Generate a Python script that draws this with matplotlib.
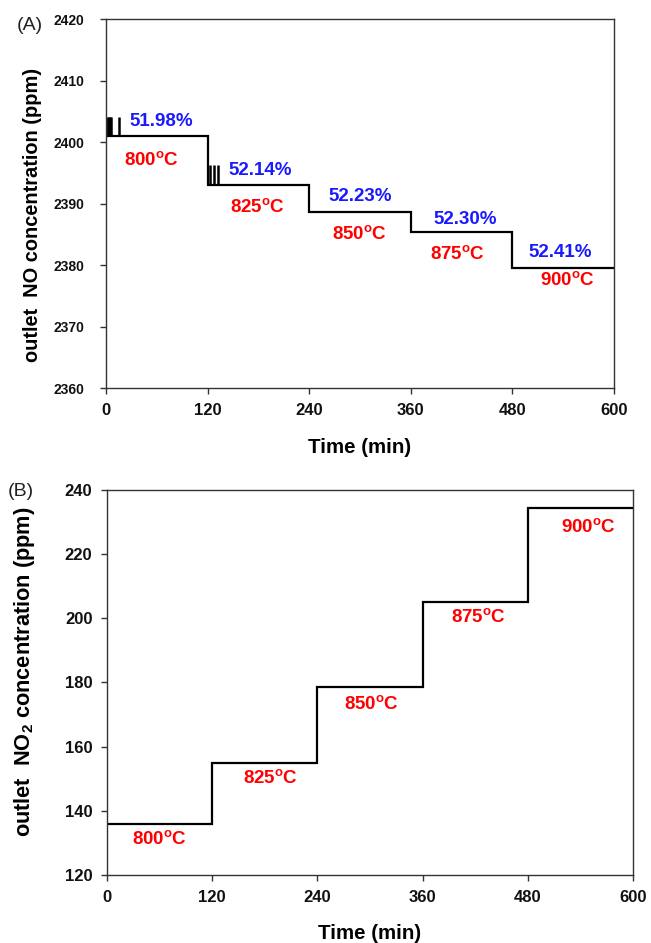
import matplotlib
matplotlib.use("Agg")
import matplotlib.pyplot as plt

plt.rcParams['font.family'] = ['Liberation Sans', 'DejaVu Sans']
plt.rcParams['mathtext.fontset'] = 'custom'
plt.rcParams['mathtext.rm'] = 'Liberation Sans'
plt.rcParams['mathtext.bf'] = 'Liberation Sans:bold'
plt.rcParams['mathtext.it'] = 'Liberation Sans:italic'

# ---- data ----
step_edges = [0, 120, 240, 360, 480, 600]
temps = ['800', '825', '850', '875', '900']
no_levels = [2401.0, 2393.0, 2388.7, 2385.3, 2379.6]
no2_levels = [135.8, 155.0, 178.5, 205.0, 234.3]
conversions = ['51.98%', '52.14%', '52.23%', '52.30%', '52.41%']
spike_times = [0.5, 1.8, 3.1, 4.4, 5.6, 15.5, 122.7, 127.0, 132.6]
spike_base = [2401, 2401, 2401, 2401, 2401, 2401, 2393, 2393, 2393]
spike_tops = [2404, 2404, 2404, 2404, 2404, 2404, 2396.2, 2396.2, 2396.2]

# label positions (data coords)
conv_pos = [(65, 2403.3), (182, 2395.3), (300, 2391.2), (424, 2387.4), (537, 2382.0)]
tempA_pos = [(54, 2397.1), (179, 2389.4), (300, 2385.0), (415, 2381.8), (545, 2377.6)]
tempB_pos = [(60, 131.2), (187, 150.3), (302, 173.3), (424, 200.3), (549, 228.5)]

xticks = [0, 120, 240, 360, 480, 600]

fig = plt.figure(figsize=(6.51, 9.43), dpi=100)
axA = fig.add_axes([0.1628, 0.5885, 0.7803, 0.3913])
axB = fig.add_axes([0.1644, 0.0721, 0.808, 0.4083])

spine_col = '#333333'

def style(ax, ysize, ypad):
    for s in ax.spines.values():
        s.set_color(spine_col)
        s.set_linewidth(1.0)
    ax.tick_params(direction='out', length=4.5, width=1, color=spine_col,
                   labelcolor='#111111')
    ax.tick_params(axis='x', labelsize=12, pad=6)
    ax.tick_params(axis='y', labelsize=ysize, pad=ypad)
    for lab in ax.get_xticklabels() + ax.get_yticklabels():
        lab.set_fontweight('bold')

def step_line(ax, levels):
    xs, ys = [], []
    for i, lv in enumerate(levels):
        xs += [step_edges[i], step_edges[i + 1]]
        ys += [lv, lv]
    ax.plot(xs, ys, color='black', lw=1.6, solid_joinstyle='miter')

# ---- panel A ----
step_line(axA, no_levels)
axA.vlines(spike_times, spike_base, spike_tops, color='black', lw=1.8)
axA.set_xlim(0, 600)
axA.set_ylim(2360, 2420)
axA.set_xticks(xticks)
axA.set_yticks(range(2360, 2421, 10))
style(axA, 10, 11)
axA.set_xlabel('Time (min)', fontsize=14.8, fontweight='bold', labelpad=15)
axA.set_ylabel('outlet  NO concentration (ppm)', fontsize=14.4, fontweight='bold')
axA.yaxis.set_label_coords(-0.126, 0.469)
for (x, y), t in zip(conv_pos, conversions):
    axA.text(x, y, t, color='#1a1aff', fontsize=13.5, fontweight='bold', ha='center', va='center')
for (x, y), t in zip(tempA_pos, temps):
    axA.text(x, y, t + r'$^{\mathbf{o}}$C', color='#ff0000', fontsize=13.5, fontweight='bold',
             ha='center', va='center')

# ---- panel B ----
step_line(axB, no2_levels)
axB.set_xlim(0, 600)
axB.set_ylim(120, 240)
axB.set_xticks(xticks)
axB.set_yticks(range(120, 241, 20))
style(axB, 12, 6)
axB.set_xlabel('Time (min)', fontsize=14.8, fontweight='bold', labelpad=14)
axB.set_ylabel(r'outlet  NO$_{\mathbf{2}}$ concentration (ppm)', fontsize=15.7, fontweight='bold')
axB.yaxis.set_label_coords(-0.133, 0.527)
for (x, y), t in zip(tempB_pos, temps):
    axB.text(x, y, t + r'$^{\mathbf{o}}$C', color='#ff0000', fontsize=13.5, fontweight='bold',
             ha='center', va='center')

fig.text(17 / 651, 1 - 25 / 943, '(A)', fontsize=14, va='center', ha='left', color='#222222')
fig.text(8 / 651, 1 - 492 / 943, '(B)', fontsize=14, va='center', ha='left', color='#222222')

fig.savefig('out.png', dpi=100, facecolor='white')
